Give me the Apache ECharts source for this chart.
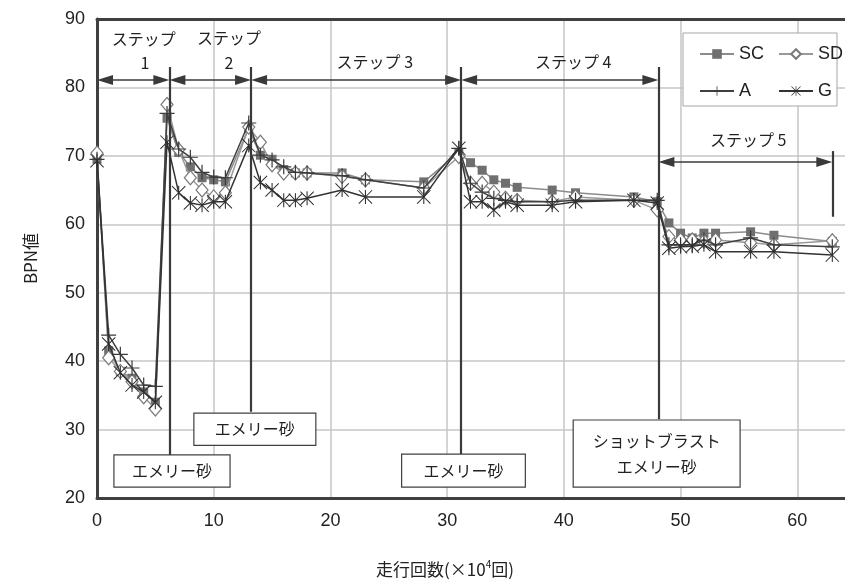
<!DOCTYPE html>
<html><head><meta charset="utf-8">
<script src="https://cdn.jsdelivr.net/npm/echarts@6/dist/echarts.min.js"></script>
<style>html,body{margin:0;padding:0;background:#fff}#c{width:845px;height:587px}</style>
</head><body><div id="c"></div>
<script>
// ---- data (x in ×10^4 runs, y = BPN value) ----
const xValues = [0,1,2,3,4,5,6,7,8,9,10,11,13,14,15,16,17,18,21,23,28,31,32,33,34,35,36,39,41,46,48,49,50,51,52,53,56,58,63];
const scValues = [69.5,41.5,38.5,37.5,35.5,34.0,75.5,70.5,68.4,66.8,66.5,66.2,74.0,70.1,69.5,68.0,67.5,67.5,67.5,66.5,66.2,70.5,69.0,67.9,66.5,66.0,65.4,65.0,64.6,64.0,63.3,60.2,58.7,58.0,58.7,58.7,58.9,58.4,57.5];
const sdValues = [70.4,40.5,38.5,37.0,34.8,33.0,77.5,70.9,66.8,65.0,64.0,64.6,74.2,72.0,68.7,67.5,67.5,67.5,67.0,66.5,65.3,69.9,66.0,66.0,64.7,63.8,63.5,63.3,64.0,63.5,62.1,58.2,57.7,57.7,57.5,57.7,57.3,57.0,57.6];
const aValues  = [69.5,43.8,41.0,39.0,36.5,36.3,76.2,71.0,69.8,67.6,66.9,66.8,74.8,70.1,69.4,68.4,67.6,67.5,67.1,66.5,65.3,71.1,66.0,64.7,63.8,63.5,63.3,63.3,63.5,63.5,63.5,57.0,57.0,57.0,57.7,57.0,58.0,57.0,56.7];
const gValues  = [69.3,42.5,38.3,36.5,35.5,34.0,72.0,64.6,63.1,62.8,63.3,63.3,71.5,66.1,65.0,63.5,63.5,63.8,65.0,64.0,64.0,71.1,63.3,63.3,62.1,63.3,62.8,62.8,63.3,63.5,63.1,56.5,56.7,56.8,57.0,56.0,56.0,56.0,55.5];
const seriesNames = ['SC','SD','A','G'];
const yTicks = [20,30,40,50,60,70,80,90];
const xTicks = [0,10,20,30,40,50,60,70];

// ---- annotations (data coordinates) ----
const stepBounds = [0, 6.2, 13.2, 31.2, 48.1];
const stepArrowY = 81.1;
const step5Arrow = {x1: 48.1, x2: 63, y: 69.1};
const vLines = [ [6.2, 83.0, 26.3], [13.2, 83.0, 32.6], [31.2, 83.0, 26.4], [48.1, 83.0, 31.5], [63, 70.7, 61.1] ];
const stepLabels = [
  {text:'ステップ', x:4.0, y:87.1}, {text:'1', x:4.1, y:83.6},
  {text:'ステップ', x:11.3, y:87.2}, {text:'2', x:11.3, y:83.6},
  {text:'ステップ 3', x:23.8, y:83.7}, {text:'ステップ 4', x:40.8, y:83.7},
  {text:'ステップ 5', x:55.8, y:72.3}
];
const boxes = [
  {text:'エメリー砂', x1:1.45, x2:11.4, yTop:26.3, yBot:21.6},
  {text:'エメリー砂', x1:8.3, x2:18.75, yTop:32.4, yBot:27.7},
  {text:'エメリー砂', x1:26.1, x2:36.7, yTop:26.4, yBot:21.6},
  {text:'ショットブラスト\nエメリー砂', x1:40.8, x2:55.1, yTop:31.4, yBot:21.6}
];

const JP = '"Noto Sans CJK JP", "Noto Sans", sans-serif';
const NUM = '"Liberation Sans", Arial, sans-serif';
const plusPath = 'path://M-0.8,-10 L0.8,-10 L0.8,-0.8 L10,-0.8 L10,0.8 L0.8,0.8 L0.8,10 L-0.8,10 L-0.8,0.8 L-10,0.8 L-10,-0.8 L-0.8,-0.8 Z';
const starPath = 'path://M-0.75,-10 L0.75,-10 L0.75,10 L-0.75,10 Z M-10,-9 L-9,-10 L10,9 L9,10 Z M9,-10 L10,-9 L-9,10 L-10,9 Z';

const gridLeft = 97, gridTop = 19, gridWidth = 817, gridHeight = 479;
const pxPerX = gridWidth / (xTicks[xTicks.length-1] - xTicks[0]);
const arrowLen = 16, arrowInset = (arrowLen/2) / pxPerX;
const frame = {color:'#404040', width:3};

function pairs(vals){ return xValues.map((x,i)=>[x, vals[i]]); }
function arrowSeg(x1,x2,y){
  return [
    {coord:[x1+arrowInset, y], symbol:'triangle', symbolSize:[10,arrowLen]},
    {coord:[x2-arrowInset, y], symbol:'triangle', symbolSize:[10,arrowLen]}
  ];
}
const markData = [];
for (let i=0;i<stepBounds.length-1;i++) markData.push(arrowSeg(stepBounds[i], stepBounds[i+1], stepArrowY));
markData.push(arrowSeg(step5Arrow.x1, step5Arrow.x2, step5Arrow.y));
vLines.forEach(v=>markData.push([
  {coord:[v[0], v[1]], symbol:'none', lineStyle:{width:2.2, color:'#3a3a3a'}},
  {coord:[v[0], v[2]], symbol:'none'}
]));

const chart = echarts.init(document.getElementById('c'));
const xBase = {type:'value', min:xTicks[0], max:xTicks[xTicks.length-1], interval:10, axisTick:{show:false}};
const option = {
  animation:false,
  backgroundColor:'#fff',
  grid:{left:gridLeft, top:gridTop, width:gridWidth, height:gridHeight, outerBoundsMode:'none', containLabel:false,
    show:false},
  xAxis:[
    Object.assign({}, xBase, {position:'bottom',
      axisLine:{show:true, onZero:false, lineStyle:frame},
      axisLabel:{color:'#222', fontSize:18, fontFamily:NUM, margin:14},
      splitLine:{show:true, lineStyle:{color:'#c6c6c6', width:1.5}}}),
    Object.assign({}, xBase, {position:'top',
      axisLine:{show:true, onZero:false, lineStyle:frame},
      axisLabel:{show:false}, splitLine:{show:false}})
  ],
  yAxis:{type:'value', min:yTicks[0], max:yTicks[yTicks.length-1], interval:10,
    axisLine:{show:true, onZero:false, lineStyle:frame}, axisTick:{show:false},
    axisLabel:{color:'#222', fontSize:18, fontFamily:NUM, margin:12},
    splitLine:{show:true, lineStyle:{color:'#c6c6c6', width:1.5}},
    name:'BPN値', nameLocation:'middle', nameGap:58, nameRotate:90,
    nameTextStyle:{color:'#222', fontSize:17, fontFamily:JP}},
  legend:[
    {data:['SC','A'], orient:'vertical', left:694, top:40, itemWidth:34, itemHeight:12, itemGap:19,
     textStyle:{fontSize:18, fontFamily:NUM, color:'#222'}, selectedMode:false},
    {data:['SD','G'], orient:'vertical', left:773, top:40, itemWidth:34, itemHeight:12, itemGap:19,
     textStyle:{fontSize:18, fontFamily:NUM, color:'#222'}, selectedMode:false}
  ],
  series:[
    {name:seriesNames[0], type:'line', data:pairs(scValues), symbol:'rect', symbolSize:9, showAllSymbol:true,
     lineStyle:{color:'#8c8c8c', width:1.5}, itemStyle:{color:'#6f6f6f', borderWidth:0}, z:2},
    {name:seriesNames[1], type:'line', data:pairs(sdValues), symbol:'diamond', symbolSize:[12,14], showAllSymbol:true,
     lineStyle:{color:'#999999', width:1.5}, itemStyle:{color:'#ffffff', borderColor:'#7a7a7a', borderWidth:1.2}, z:3},
    {name:seriesNames[2], type:'line', data:pairs(aValues), symbol:plusPath, symbolSize:15, showAllSymbol:true,
     lineStyle:{color:'#404040', width:1.5}, itemStyle:{color:'#3a3a3a'}, z:4},
    {name:seriesNames[3], type:'line', data:pairs(gValues), symbol:starPath, symbolSize:14, showAllSymbol:true,
     lineStyle:{color:'#333333', width:1.5}, itemStyle:{color:'#2e2e2e'}, z:5},
    {name:'annot', type:'line', data:[], z:6,
     markLine:{silent:true, animation:false, symbol:'none', label:{show:false},
       lineStyle:{color:'#3a3a3a', width:1.6, type:'solid'}, emphasis:{disabled:true},
       data:markData}}
  ]
};
chart.setOption(option);

function px(x,y){ return chart.convertToPixel({gridIndex:0},[x,y]); }
const g = [];
g.push({type:'rect', shape:{x:683, y:33, width:154, height:73}, style:{fill:'#fff', stroke:'#a6a6a6', lineWidth:1}, z:3});
stepLabels.forEach(s=>{
  const p = px(s.x, s.y);
  g.push({type:'text', x:p[0], y:p[1], z:10, style:{text:s.text, font:'16px '+JP, fill:'#222', textAlign:'center', textVerticalAlign:'middle', align:'center', verticalAlign:'middle'}});
});
boxes.forEach(b=>{
  const p1 = px(b.x1, b.yTop), p2 = px(b.x2, b.yBot);
  g.push({type:'rect', z:8, shape:{x:p1[0], y:p1[1], width:p2[0]-p1[0], height:p2[1]-p1[1]}, style:{fill:'#fff', stroke:'#404040', lineWidth:1.2}});
  g.push({type:'text', z:9, x:(p1[0]+p2[0])/2, y:(p1[1]+p2[1])/2,
    style:{text:b.text, font:'16px '+JP, fill:'#222', lineHeight:26, textAlign:'center', textVerticalAlign:'middle', align:'center', verticalAlign:'middle'}});
});
g.push({type:'text', z:10, x:445, y:570, style:{
  text:'{a|走行回数(×10}{s|4}{a|回)}',
  rich:{a:{fontSize:17, fontFamily:JP, fill:'#222', color:'#222', lineHeight:22},
        s:{fontSize:10, fontFamily:JP, fill:'#222', color:'#222', lineHeight:22, verticalAlign:'top', padding:[0,0,0,0]}},
  textAlign:'center', textVerticalAlign:'middle', align:'center', verticalAlign:'middle'}});
chart.setOption({graphic:{elements:g}});
</script>
</body></html>
